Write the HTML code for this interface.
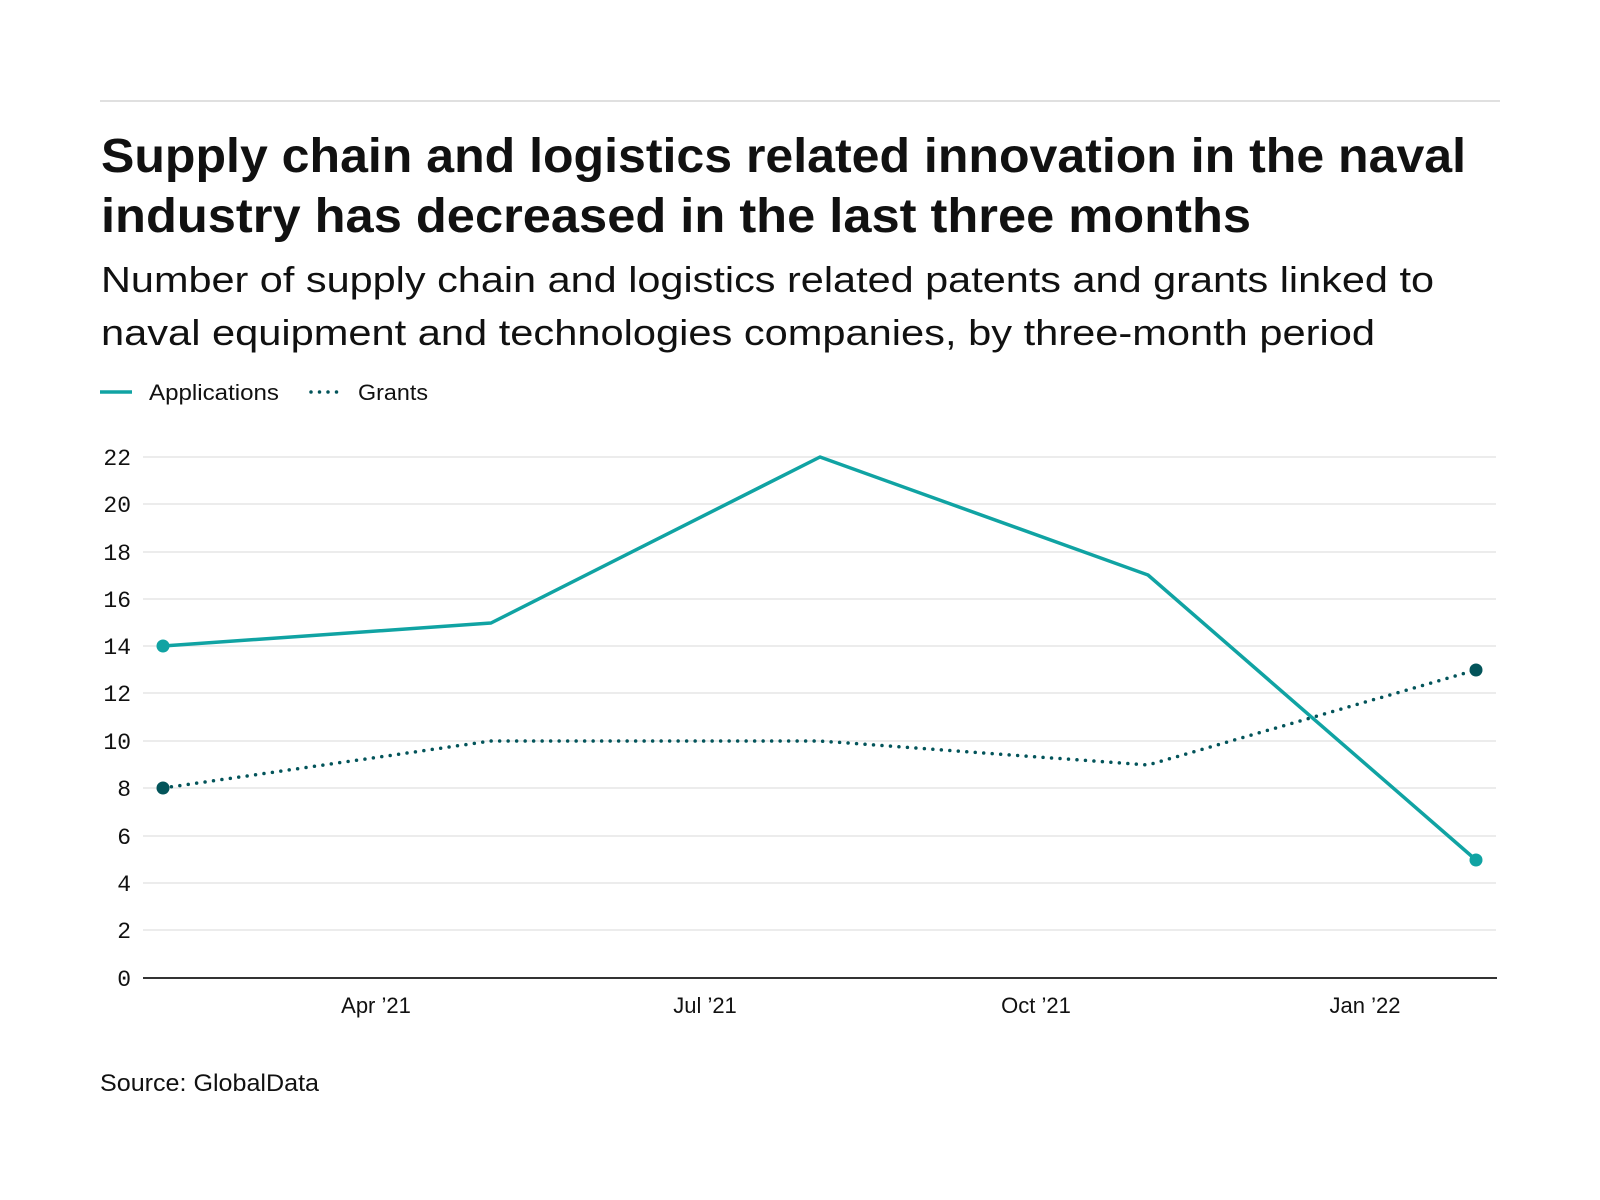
<!DOCTYPE html>
<html><head><meta charset="utf-8"><style>
html,body{margin:0;padding:0;background:#fff;}
svg{display:block;font-family:"Liberation Sans",sans-serif;}
</style></head><body>
<svg width="1600" height="1200" viewBox="0 0 1600 1200" xmlns="http://www.w3.org/2000/svg">
<rect width="1600" height="1200" fill="#fff"/>
<line x1="100" y1="101" x2="1500" y2="101" stroke="#e0e0e0" stroke-width="2"/>
<g fill="#111" font-weight="bold" font-size="48">
<text x="101" y="172" textLength="1365" lengthAdjust="spacingAndGlyphs">Supply chain and logistics related innovation in the naval</text>
<text x="101" y="232" textLength="1150" lengthAdjust="spacingAndGlyphs">industry has decreased in the last three months</text>
</g>
<g fill="#111" font-size="36">
<text x="101" y="292" textLength="1333" lengthAdjust="spacingAndGlyphs">Number of supply chain and logistics related patents and grants linked to</text>
<text x="101" y="345" textLength="1274" lengthAdjust="spacingAndGlyphs">naval equipment and technologies companies, by three-month period</text>
</g>
<line x1="100" y1="392" x2="132" y2="392" stroke="#10a3a3" stroke-width="3.5"/>
<text x="149" y="400" font-size="22" fill="#111" textLength="130" lengthAdjust="spacingAndGlyphs">Applications</text>
<line x1="311" y1="392" x2="342" y2="392" stroke="#03545a" stroke-width="3.5" stroke-linecap="round" stroke-dasharray="0 8.5"/>
<text x="358" y="400" font-size="22" fill="#111" textLength="70" lengthAdjust="spacingAndGlyphs">Grants</text>
<g stroke="#e6e6e6" stroke-width="1.5">
<line x1="143" y1="457" x2="1496" y2="457"/>
<line x1="143" y1="504" x2="1496" y2="504"/>
<line x1="143" y1="552" x2="1496" y2="552"/>
<line x1="143" y1="599" x2="1496" y2="599"/>
<line x1="143" y1="646" x2="1496" y2="646"/>
<line x1="143" y1="693" x2="1496" y2="693"/>
<line x1="143" y1="741" x2="1496" y2="741"/>
<line x1="143" y1="788" x2="1496" y2="788"/>
<line x1="143" y1="836" x2="1496" y2="836"/>
<line x1="143" y1="883" x2="1496" y2="883"/>
<line x1="143" y1="930" x2="1496" y2="930"/>
</g>
<line x1="143" y1="978" x2="1497" y2="978" stroke="#333" stroke-width="2"/>
<g font-family="Liberation Mono, monospace" font-size="23" fill="#111" text-anchor="end">
<text x="131" y="465">22</text><text x="131" y="512">20</text><text x="131" y="560">18</text>
<text x="131" y="607">16</text><text x="131" y="654">14</text><text x="131" y="701">12</text>
<text x="131" y="749">10</text><text x="131" y="796">8</text><text x="131" y="844">6</text>
<text x="131" y="891">4</text><text x="131" y="938">2</text><text x="131" y="986">0</text>
</g>
<g font-size="22" fill="#111" text-anchor="middle">
<text x="376" y="1013">Apr ’21</text><text x="705" y="1013">Jul ’21</text>
<text x="1036" y="1013">Oct ’21</text><text x="1365" y="1013">Jan ’22</text>
</g>
<polyline points="163,788 491,741 820,741 1148,765 1476,670" fill="none" stroke="#03545a" stroke-width="3.5" stroke-linecap="round" stroke-dasharray="0 8.5"/>
<polyline points="163,646 491,623 820,457 1148,575 1476,860" fill="none" stroke="#10a3a3" stroke-width="3.5" stroke-linejoin="round"/>
<circle cx="163" cy="646" r="6.5" fill="#10a3a3"/>
<circle cx="1476" cy="860" r="6.5" fill="#10a3a3"/>
<circle cx="163" cy="788" r="6.5" fill="#03545a"/>
<circle cx="1476" cy="670" r="6.5" fill="#03545a"/>
<text x="100" y="1091" font-size="24" fill="#111" textLength="219" lengthAdjust="spacingAndGlyphs">Source: GlobalData</text>
</svg>
</body></html>
